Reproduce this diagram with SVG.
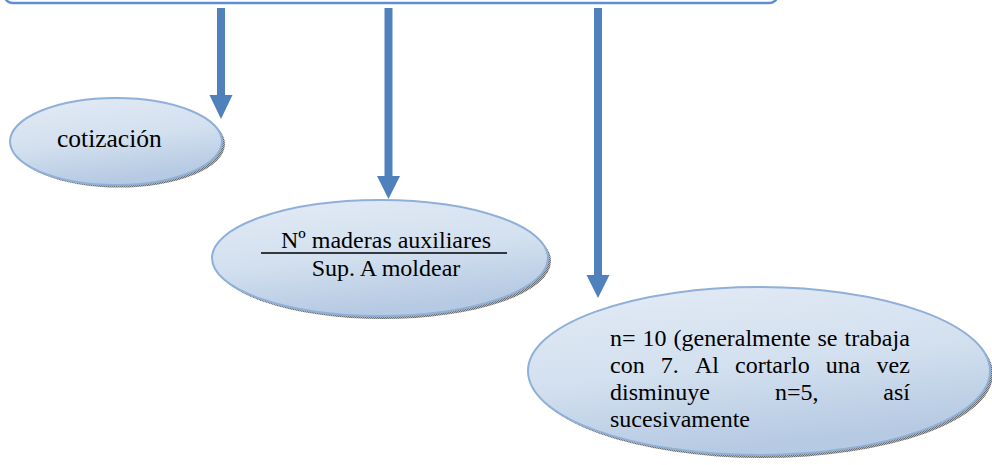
<svg xmlns="http://www.w3.org/2000/svg" width="992" height="465" viewBox="0 0 992 465">
  <defs>
    <linearGradient id="fillGrad" x1="0" y1="0" x2="0.3" y2="1">
      <stop offset="0" stop-color="#e3ebf5"/>
      <stop offset="0.55" stop-color="#d3e0ef"/>
      <stop offset="1" stop-color="#b6cae3"/>
    </linearGradient>
    <pattern id="shadowPat" width="2" height="2" patternUnits="userSpaceOnUse">
      <rect width="2" height="2" fill="#b4b4b4"/>
      <rect width="1" height="1" fill="#6e6e6e"/>
      <rect x="1" y="1" width="1" height="1" fill="#6e6e6e"/>
    </pattern>
  </defs>
  <style>
    .shadow { fill: url(#shadowPat); }
    .node { fill: url(#fillGrad); stroke: #8fb0d8; stroke-width: 2; }
    .arrow { fill: #4f81bd; }
    .frame { fill: #ffffff; stroke: #5d8fd5; stroke-width: 2.5; }
  </style>

  <g id="top-box">
    <rect class="frame" x="5" y="-40" width="772" height="43" rx="7"/>
  </g>

  <g id="connectors">
    <path class="arrow" d="M217 8 H225 V95 H232.5 L221 119 L209.5 95 H217 Z"/>
    <path class="arrow" d="M384.5 8 H392.5 V176 H400 L388.5 199 L377 176 H384.5 Z"/>
    <path class="arrow" d="M594 8 H602 V275 H609.5 L598 298 L586.5 275 H594 Z"/>
  </g>

  <g font-family="Liberation Serif, Times New Roman, Tinos, DejaVu Serif, serif" font-size="24" fill="#000">
  <g id="node-cotizacion">
    <ellipse class="shadow" cx="119" cy="144" rx="106" ry="43.5"/>
    <ellipse class="node" cx="116" cy="141.5" rx="106" ry="43.5"/>
    <text x="57" y="147" font-size="25.5">cotización</text>
  </g>

  <g id="node-maderas">
    <ellipse class="shadow" cx="383" cy="261" rx="168" ry="58"/>
    <ellipse class="node" cx="380" cy="258" rx="168" ry="58"/>
    <text x="386" y="248" text-anchor="middle">Nº maderas auxiliares</text>
    <line x1="261" y1="253" x2="507" y2="253" stroke="#000" stroke-width="1.3"/>
    <text x="386" y="276" text-anchor="middle">Sup. A moldear</text>
  </g>

  <g id="node-n10">
    <ellipse class="shadow" cx="762" cy="374" rx="231" ry="84"/>
    <ellipse class="node" cx="759" cy="371" rx="231" ry="84"/>
    <text y="346"><tspan x="610">n=</tspan><tspan x="642.5">10</tspan><tspan x="673.5">(generalmente</tspan><tspan x="817.5">se</tspan><tspan x="844.5">trabaja</tspan></text>
    <text y="373"><tspan x="610">con</tspan><tspan x="660.8">7.</tspan><tspan x="694.9">Al</tspan><tspan x="735">cortarlo</tspan><tspan x="825.7">una</tspan><tspan x="876.5">vez</tspan></text>
    <text y="400"><tspan x="610">disminuye</tspan><tspan x="774.9">n=5,</tspan><tspan x="883.3">así</tspan></text>
    <text x="610" y="427">sucesivamente</text>
  </g>
  </g>
</svg>
